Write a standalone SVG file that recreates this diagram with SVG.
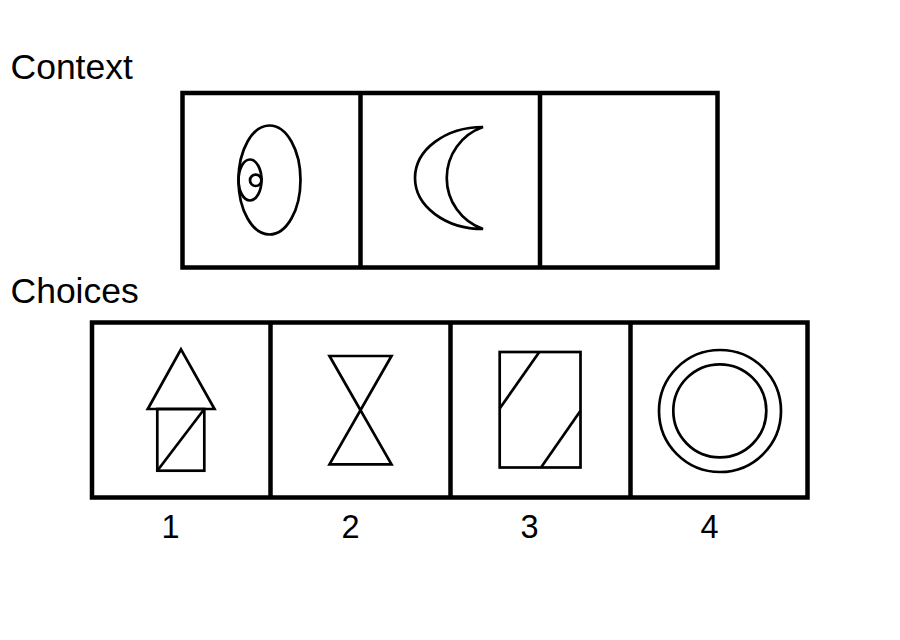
<svg xmlns="http://www.w3.org/2000/svg" width="900" height="640" viewBox="0 0 900 640">
<style>
.frame{fill:none;stroke:#000;stroke-width:4.5}
.fig{fill:none;stroke:#000;stroke-width:2.7;stroke-linejoin:miter;stroke-linecap:butt}
.lbl{font-family:"Liberation Sans",Arial,sans-serif;fill:#000}
.head{font-size:35.5px}
.num{font-size:32.5px;text-anchor:middle}
</style>
<rect width="900" height="640" fill="#fff"/>
<text class="lbl head" x="10.5" y="78.5">Context</text>
<text class="lbl head" x="10.5" y="303.3">Choices</text>
<g id="context">
  <rect class="frame" x="182.5" y="93" width="535" height="174.5"/>
  <line class="frame" x1="360.5" y1="93" x2="360.5" y2="267.5"/>
  <line class="frame" x1="540" y1="93" x2="540" y2="267.5"/>
</g>
<g id="ctx1">
  <ellipse class="fig" cx="269.5" cy="180" rx="31" ry="54.5"/>
  <ellipse class="fig" cx="250" cy="180" rx="11.5" ry="20.5"/>
  <circle class="fig" cx="255.7" cy="180.3" r="5.7"/>
</g>
<g id="ctx2">
  <path class="fig" d="M483,127 A68,51 0 0,0 483,229 A54,54 0 0,1 483,127 Z"/>
</g>
<g id="choices">
  <rect class="frame" x="92" y="322.5" width="715.5" height="175"/>
  <line class="frame" x1="270.5" y1="322.5" x2="270.5" y2="497.5"/>
  <line class="frame" x1="450.5" y1="322.5" x2="450.5" y2="497.5"/>
  <line class="frame" x1="630.5" y1="322.5" x2="630.5" y2="497.5"/>
</g>
<g id="choice1">
  <path class="fig" d="M181,349.3 L214.5,409 L147.8,409 Z"/>
  <rect class="fig" x="157.3" y="409" width="47" height="61.7"/>
  <line class="fig" x1="157.3" y1="470.7" x2="204.3" y2="409"/>
</g>
<g id="choice2">
  <path class="fig" d="M329.5,356 L391.5,356 L329.5,464.3 L391.5,464.3 Z"/>
</g>
<g id="choice3">
  <rect class="fig" x="499.7" y="352" width="80.8" height="115.5"/>
  <line class="fig" x1="539.3" y1="352" x2="499.7" y2="408.5"/>
  <line class="fig" x1="580.5" y1="410.7" x2="541" y2="467.5"/>
</g>
<g id="choice4">
  <circle class="fig" cx="720" cy="411" r="61"/>
  <circle class="fig" cx="719.8" cy="410.8" r="46.5"/>
</g>
<text class="lbl num" x="170.5" y="538.3">1</text>
<text class="lbl num" x="350.5" y="538.3">2</text>
<text class="lbl num" x="529.5" y="538.3">3</text>
<text class="lbl num" x="709.5" y="538.3">4</text>
</svg>
